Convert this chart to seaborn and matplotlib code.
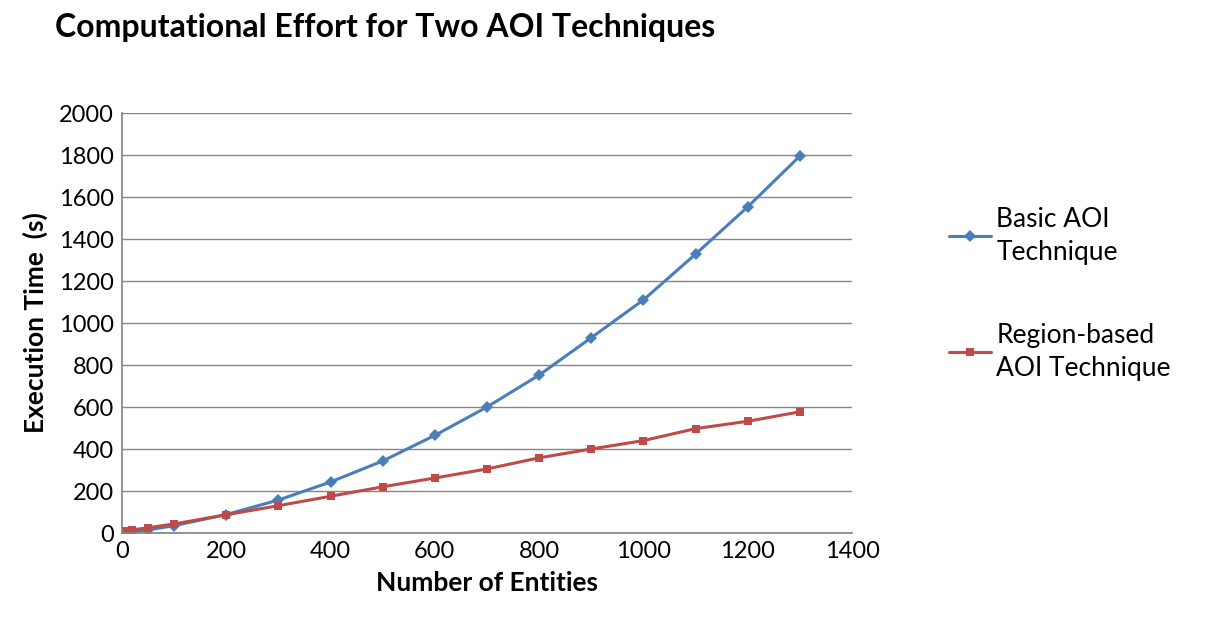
import matplotlib
matplotlib.use("Agg")
import matplotlib.pyplot as plt
import seaborn as sns
import pandas as pd

entities = [5, 20, 50, 100, 200, 300, 400, 500, 600, 700, 800, 900, 1000, 1100, 1200, 1300]
basic = [2, 5, 15, 35, 88, 157, 243, 343, 465, 600, 752, 930, 1110, 1328, 1553, 1795]
region = [10, 15, 25, 43, 87, 130, 175, 220, 262, 305, 358, 400, 440, 497, 532, 577]
labels = ["Basic AOI\nTechnique", "Region-based\nAOI Technique"]

sns.set_theme(style="white")
plt.rcParams['font.family'] = ['Lato', 'DejaVu Sans']
plt.rcParams['text.color'] = 'black'

df = pd.concat([
    pd.DataFrame({"x": entities, "y": basic, "s": labels[0]}),
    pd.DataFrame({"x": entities, "y": region, "s": labels[1]}),
])

fig = plt.figure(figsize=(12.1, 6.31), dpi=100)
ax = fig.add_axes([122/1210, 1-533/631, 730/1210, 420/631])
sns.lineplot(data=df, x="x", y="y", hue="s", style="s",
             palette=["#4a7ebb", "#be4b48"], markers=["D", "s"], dashes=False,
             markersize=6, linewidth=2.2, markeredgewidth=0, ax=ax)
ax.set_xlim(0, 1400)
ax.set_ylim(0, 2000)
ax.set_xticks(range(0, 1401, 200))
ax.set_yticks(range(0, 2001, 200))
ax.yaxis.grid(True, color="#868686", linewidth=1)
ax.tick_params(labelsize=17, colors="black", length=0, pad=6)
for s in ["top", "right"]:
    ax.spines[s].set_visible(False)
for s in ["left", "bottom"]:
    ax.spines[s].set_color("#868686")
ax.set_xlabel("Number of Entities", fontsize=19, fontweight="bold", labelpad=6, color="black")
ax.set_ylabel("Execution Time  (s)", fontsize=19, fontweight="bold", labelpad=8, color="black")
fig.text(55/1210, 1-28/631, "Computational Effort for Two AOI Techniques",
         fontsize=23, fontweight="bold", va="center", color="black")
leg = ax.legend(loc="center left", bbox_to_anchor=(1.1, 0.57), frameon=False,
                fontsize=19, labelspacing=2.2, handlelength=1.6, handletextpad=0.2)
for t in leg.get_texts():
    t.set_linespacing(1.4)
fig.savefig("out.png", dpi=100)
